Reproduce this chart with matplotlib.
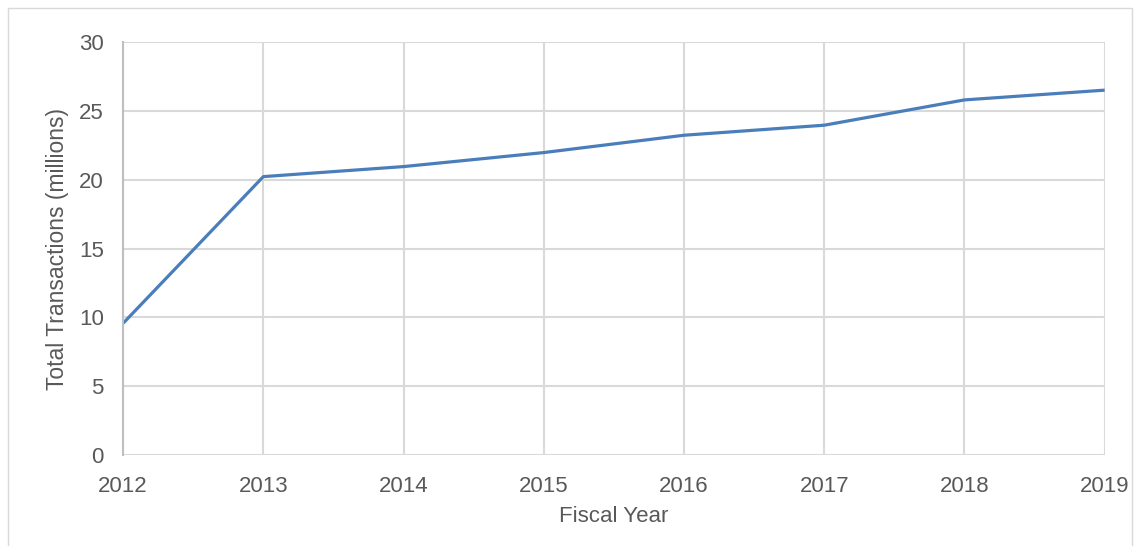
import matplotlib
matplotlib.use("Agg")
import matplotlib.pyplot as plt
from matplotlib.patches import Rectangle

# data
years = [2012, 2013, 2014, 2015, 2016, 2017, 2018, 2019]
transactions = [9.56, 20.23, 20.96, 21.98, 23.24, 23.97, 25.81, 26.52]
y_ticks = [0, 5, 10, 15, 20, 25, 30]

plt.rcParams['font.family'] = ['Liberation Sans', 'DejaVu Sans']
text_color = "#595959"
grid_color = "#d9d9d9"

fig = plt.figure(figsize=(11.4, 5.46), dpi=100)
ax = fig.add_axes([0.108, 0.1672, 0.861, 0.7553])

# outer chart border
fig.patches.append(Rectangle((8 / 1140, -0.01), 1124 / 1140, 1 - 8 / 546 + 0.01,
                             transform=fig.transFigure, fill=False,
                             edgecolor="#d9d9d9", linewidth=1.0))

ax.plot(years, transactions, color="#4a7ebb", linewidth=2.3, solid_capstyle="butt")

ax.set_xlim(years[0], years[-1])
ax.set_ylim(0, 30)
ax.set_xticks(years)
ax.set_yticks(y_ticks)
ax.grid(True, color=grid_color, linewidth=1.5)
ax.set_axisbelow(True)

for side in ["top", "right", "bottom"]:
    ax.spines[side].set_visible(False)
ax.spines["left"].set_color("#bfbfbf")
ax.spines["left"].set_linewidth(1.5)

ax.tick_params(axis="both", length=0, labelsize=16, colors=text_color)
ax.tick_params(axis="x", pad=15)
ax.tick_params(axis="y", pad=14)

ax.set_xlabel("Fiscal Year", fontsize=16, color=text_color, labelpad=7)
ax.set_ylabel("Total Transactions (millions)", fontsize=16.5, color=text_color, labelpad=7)

fig.savefig("out.png", dpi=100)
